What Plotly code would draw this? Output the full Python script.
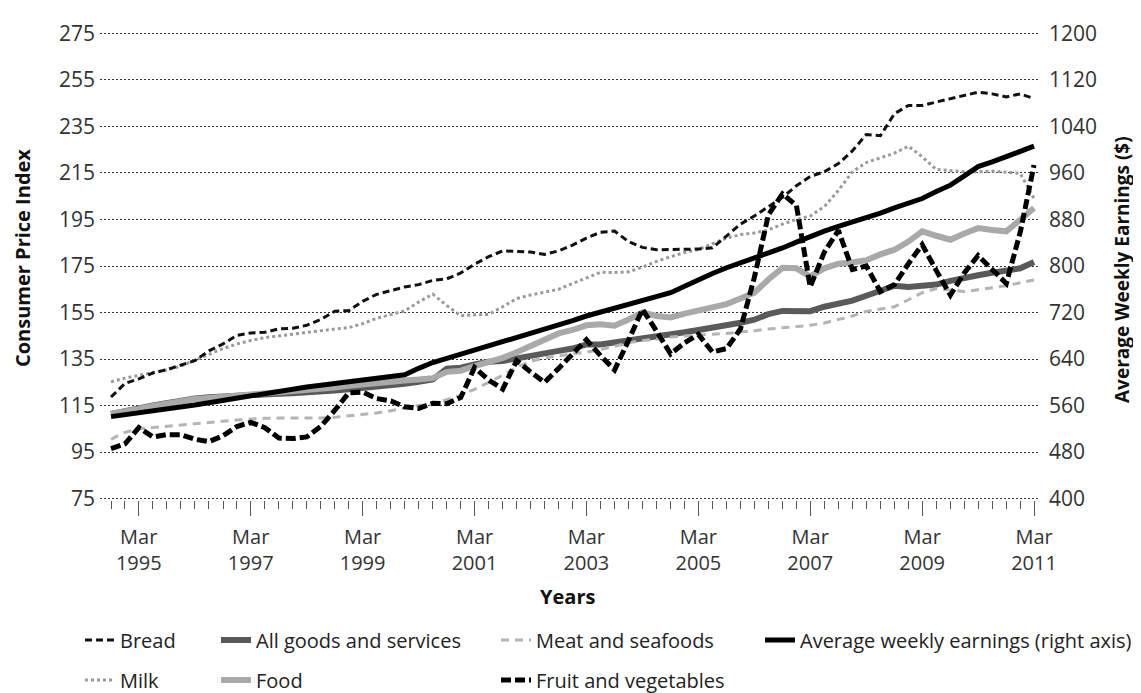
import pandas as pd
import plotly.graph_objects as go

# Quarterly observations, Sep 1994 - Mar 2011
quarters = pd.date_range("1994-09-01", "2011-03-01", freq="3MS")

bread = [118.7, 124.5, 126.5, 129, 130.5, 132.5, 134.3, 138.5, 141.5, 145.2,
         146.2, 146.5, 148, 148.2, 149.5, 152, 155.6, 155.8, 159.8, 162.8,
         164.5, 166, 167, 168.8, 169.5, 172, 175.8, 179, 181.5, 181.3,
         181, 180, 181.5, 184, 187, 189.5, 190, 185.5, 183, 182,
         182, 182, 182.3, 182.8, 188, 193, 196.5, 200.5, 204.5, 209.5,
         213.5, 215.5, 219, 224.5, 231.5, 231, 240.5, 244, 244, 245.5,
         247, 248.5, 249.7, 249, 247.7, 249, 247]

milk = [125.2, 126.8, 128, 129.3, 130.3, 132, 134.5, 137, 139.5, 141.5,
        143, 144.2, 145, 145.8, 146.5, 147.2, 147.9, 148.5, 150.2, 152.5,
        154, 155.7, 159.5, 162.9, 158, 153.6, 154, 154.2, 157.5, 161,
        162.5, 163.7, 165, 167.5, 170, 172.3, 172.2, 172.5, 174.5, 177,
        179, 180.8, 182.1, 184.5, 187, 188.5, 189.2, 190.5, 193, 195,
        196.5, 200.5, 207.5, 215.5, 219.5, 221.5, 223.5, 226.5, 222, 216.5,
        216, 215.5, 215.5, 215.8, 215.3, 214.8, 204]

all_goods = [111.4, 112.3, 113.8, 115.0, 116.2, 117.2, 118.0, 118.6, 119.0, 119.4,
             119.8, 120.0, 120.1, 120.3, 120.5, 120.8, 121.5, 122.0, 122.5, 123.0,
             123.7, 124.4, 125.2, 126.2, 130.9, 131.3, 132.7, 133.8, 134.2, 135.4,
             136.6, 137.6, 138.5, 139.5, 141.3, 141.3, 142.1, 142.8, 144.1, 144.8,
             145.4, 146.5, 147.5, 148.4, 149.8, 150.6, 151.9, 154.3, 155.7, 155.5,
             155.6, 157.5, 158.6, 160.1, 162.2, 164.6, 166.5, 166.0, 166.2, 167.0,
             168.6, 169.5, 171.0, 172.1, 173.3, 174.0, 176.7]

food = [111.5, 112.3, 113.5, 114.8, 116, 117, 117.8, 118.3, 118.8, 119.3,
        119.8, 120, 120.3, 120.8, 121.3, 122, 122.8, 123.5, 124.2, 124.8,
        125.3, 125.8, 126.2, 126.8, 129.5, 130, 132, 133.6, 135.5, 137.9,
        140.5, 142.9, 146, 147.5, 149.5, 150, 149.3, 152, 155, 153.5,
        152.9, 154.5, 155.7, 157, 158.6, 161, 163.5, 169.2, 174.2, 174,
        170.5, 174, 176, 176.5, 177.5, 180, 182, 185.5, 189.9, 188,
        186.3, 189, 191.3, 190.5, 189.9, 194.9, 199.9]

meat = [100.5, 103.5, 105, 105.5, 106, 106.5, 107, 107.5, 108.3, 108.8,
        109.3, 109.5, 109.6, 109.5, 109.5, 109.6, 110, 110.6, 111, 111.8,
        112.8, 113.8, 115, 115.5, 117.5, 119.5, 122, 125, 128, 131.5,
        134, 135.5, 136.5, 137.2, 138, 139, 140.5, 142, 143, 143.5,
        144.5, 145, 145.3, 145.7, 146, 146.5, 147.2, 147.9, 148.5, 149,
        149.5, 150.5, 152, 153.5, 155.5, 156.5, 157.5, 160.5, 163.5, 165.3,
        164.5, 164, 164.8, 165.5, 166.5, 167.8, 169]

fruit_veg = [96.5, 98.5, 105.5, 101.5, 102.5, 102.5, 100.5, 99.5, 102, 106,
             107.8, 105.5, 101, 100.8, 101.5, 106, 113, 120.5, 120.8, 118,
             117, 114.5, 113.8, 116, 115.8, 118.5, 131.4, 126, 122.1, 134.3,
             129.5, 125, 131, 137.5, 143.3, 136.5, 130.3, 143, 156.4, 147,
             137.2, 142, 145.6, 138, 139.5, 148, 170, 197, 206, 201,
             166, 181, 190.3, 173.5, 175, 164, 167, 176, 184.2, 173,
             162.5, 172, 179.5, 173.5, 167.5, 189.5, 218.4]

earnings = [541, 544, 547, 550, 553, 557, 561, 565, 569, 573,
            577, 582, 586, 589, 592, 595, 598, 601, 604, 607,
            610, 613, 624, 634, 641, 648, 655, 662, 669, 676,
            683, 690, 698, 706, 714, 721, 728, 734, 740, 747,
            754, 765, 777, 787, 797, 805, 814, 822, 831, 841,
            851, 860, 868, 875, 882, 891, 900, 908, 916, 928,
            939, 955, 971, 979, 988, 997, 1006]

major_ticks = ["1995-03-01", "1997-03-01", "1999-03-01", "2001-03-01", "2003-03-01",
               "2005-03-01", "2007-03-01", "2009-03-01", "2011-03-01"]
major_text = ["Mar<br>1995", "Mar<br>1997", "Mar<br>1999", "Mar<br>2001", "Mar<br>2003",
              "Mar<br>2005", "Mar<br>2007", "Mar<br>2009", "Mar<br>2011"]
cpi_ticks = [75, 95, 115, 135, 155, 175, 195, 215, 235, 255, 275]
awe_ticks = [400, 480, 560, 640, 720, 800, 880, 960, 1040, 1120, 1200]

FONT = "Open Sans"
PAGE = 8                      # default body margin of the html page
SW, SH = 1141, 693            # screen size
W, H = SW - PAGE, SH - PAGE   # figure size

# CPI axis runs 75..275 between screen rows 499 and 33; pad the range a little
# so that the dotted grid lines at 75 and 275 are still drawn.
CPI_LO, CPI_HI = 74.4, 275.6
PX_PER_UNIT = (499 - 33) / (275 - 75)
Y0 = 33 - (CPI_HI - 275) * PX_PER_UNIT
Y1 = 499 + (75 - CPI_LO) * PX_PER_UNIT
X0, X1 = 100, 1040
AWE_LO = 400 + (CPI_LO - 75) * 4
AWE_HI = 1200 + (CPI_HI - 275) * 4

L, R = X0 - PAGE, W - (X1 - PAGE)
T, B = Y0 - PAGE, H - (Y1 - PAGE)
PW, PH = X1 - X0, Y1 - Y0


def px_x(px):
    return (px - X0) / PW


def px_y(py):
    return (Y1 - py) / PH


fig = go.Figure()

series = [
    ("All goods and services", all_goods, "#5a5a5a", 6, "solid", "legend2", "y"),
    ("Food", food, "#a9a9a9", 6, "solid", "legend6", "y"),
    ("Meat and seafoods", meat, "#b4b4b4", 3, "8px,6px", "legend3", "y"),
    ("Milk", milk, "#9a9a9a", 3, "3px,3px", "legend5", "y"),
    ("Bread", bread, "#111111", 3, "7px,4px", "legend", "y"),
    ("Average weekly earnings (right axis)", earnings, "#000000", 5, "solid", "legend4", "y2"),
    ("Fruit and vegetables", fruit_veg, "#000000", 5, "10px,4px", "legend7", "y"),
]
for name, vals, color, width, dash, leg, yax in series:
    fig.add_trace(go.Scatter(
        x=quarters, y=vals, name=name, mode="lines",
        line=dict(color=color, width=width, dash=dash),
        legend=leg, yaxis=yax))

# legend placement in screen pixels: text-left x, row-centre y
legend_pos = {
    "legend": (122, 640), "legend2": (258, 640), "legend3": (538, 640), "legend4": (802, 640),
    "legend5": (122, 680), "legend6": (258, 680), "legend7": (538, 680),
}
legend_layout = {}
for key, (tx, ty) in legend_pos.items():
    legend_layout[key] = dict(
        xref="container", yref="container",
        x=(tx - 42 - PAGE) / W, y=1 - (ty - PAGE) / H, xanchor="left", yanchor="middle",
        bgcolor="rgba(0,0,0,0)", borderwidth=0,
        font=dict(family=FONT, size=20, color="#222"), itemwidth=30)

fig.update_layout(
    width=W, height=H,
    margin=dict(l=L, r=R, t=T, b=B, autoexpand=False),
    paper_bgcolor="white", plot_bgcolor="white",
    font=dict(family=FONT, color="#333"),
    showlegend=True,
    xaxis=dict(
        type="date", range=["1994-06-21", "2011-04-09"],
        tickmode="array", tickvals=major_ticks, ticktext=major_text,
        ticks="outside", ticklen=15, tickcolor="#555", tickwidth=1,
        minor=dict(tickmode="array", tickvals=list(quarters), ticks="outside", ticklen=8,
                   tickcolor="#555", tickwidth=1, showgrid=False),
        showgrid=False, showline=False, zeroline=False, automargin=False,
        ticklabelstandoff=4,
        tickfont=dict(family=FONT, size=20, color="#333"),
    ),
    yaxis=dict(
        range=[CPI_LO, CPI_HI], tickmode="array", tickvals=cpi_ticks,
        showgrid=True, gridcolor="#333", griddash="2px,2px", gridwidth=1,
        ticks="", zeroline=False, showline=False, ticklabelstandoff=4,
        automargin=False,
        tickfont=dict(family=FONT, size=21, color="#333"),
    ),
    yaxis2=dict(
        range=[AWE_LO, AWE_HI], tickmode="array", tickvals=awe_ticks,
        overlaying="y", side="right", showgrid=False, zeroline=False,
        ticks="", showline=False, ticklabelstandoff=8, automargin=False,
        tickfont=dict(family=FONT, size=21, color="#333"),
    ),
    annotations=[
        dict(text="<b>Consumer Price Index</b>", xref="paper", yref="paper",
             x=px_x(22), y=px_y(258), textangle=-90, showarrow=False,
             font=dict(family=FONT, size=20, color="#111"),
             xanchor="center", yanchor="middle"),
        dict(text="<b>Average Weekly Earnings ($)</b>", xref="paper", yref="paper",
             x=px_x(1122), y=px_y(270), textangle=-90, showarrow=False,
             font=dict(family=FONT, size=19, color="#111"),
             xanchor="center", yanchor="middle"),
        dict(text="<b>Years</b>", xref="paper", yref="paper",
             x=px_x(567), y=px_y(597), showarrow=False,
             font=dict(family=FONT, size=20, color="#111"),
             xanchor="center", yanchor="middle"),
    ],
    **legend_layout,
)

fig.write_html("out.html")
